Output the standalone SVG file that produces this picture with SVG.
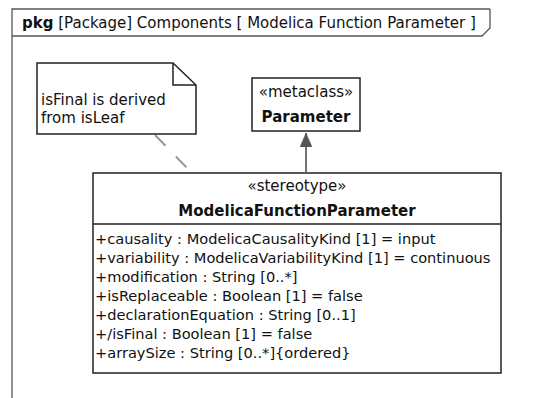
<svg xmlns="http://www.w3.org/2000/svg" width="558" height="398" viewBox="0 0 558 398">
<style>
  text { font-family: "DejaVu Sans", Verdana, sans-serif; font-size: 14.6px; fill: #111; }
  .b { font-weight: bold; font-size: 15px; }
  .h { font-size: 15px; }
  .box { fill: #fff; stroke: #222; stroke-width: 1.5; }
  .frame { fill: none; stroke: #555; stroke-width: 1.3; }
  .c { text-anchor: middle; }
</style>
<defs>
  <marker id="gen" markerWidth="16" markerHeight="12" refX="14" refY="6" orient="auto" markerUnits="userSpaceOnUse">
    <path d="M0,0 L14,6 L0,12 Z" fill="#555" stroke="#555" stroke-width="0.5"/>
  </marker>
</defs>
<rect width="558" height="398" fill="#fff"/>
<g id="frame">
  <path class="frame" d="M12,398 L12,9 L490,9"/>
  <path class="frame" d="M490,9 L490,28 L482,36 L12,36"/>
  <text class="h" x="22" y="28"><tspan font-weight="bold">pkg</tspan> [Package] Components [ Modelica Function Parameter  ]</text>
</g>
<g id="connectors">
  <line x1="155" y1="135" x2="189" y2="170" stroke="#999" stroke-width="2" stroke-dasharray="15,15"/>
  <line x1="306" y1="172" x2="306" y2="133" stroke="#444" stroke-width="1.5" marker-end="url(#gen)"/>
</g>
<g id="note">
  <path class="box" d="M37,63 L173,63 L196,85 L196,134 L37,134 Z"/>
  <path fill="none" stroke="#222" stroke-width="1.5" d="M173,63 L173,85 L196,85"/>
  <text class="h" x="41" y="105">isFinal is derived</text>
  <text class="h" x="41" y="123">from isLeaf</text>
</g>
<g id="parameter">
  <rect class="box" x="252" y="78" width="108" height="53"/>
  <text class="c h" x="306" y="97">«metaclass»</text>
  <text class="c b" x="306" y="122">Parameter</text>
</g>
<g id="modelicaFunctionParameter">
  <rect class="box" x="93" y="173" width="408" height="200"/>
  <line x1="93" y1="224" x2="501" y2="224" stroke="#222" stroke-width="1.5"/>
  <text class="c h" x="297" y="191">«stereotype»</text>
  <text class="c b" x="297" y="216">ModelicaFunctionParameter</text>
  <text x="95" y="243.5">+causality : ModelicaCausalityKind [1] = input</text>
  <text x="95" y="262.5">+variability : ModelicaVariabilityKind [1] = continuous</text>
  <text x="95" y="281.5">+modification : String [0..*]</text>
  <text x="95" y="300.5">+isReplaceable : Boolean [1] = false</text>
  <text x="95" y="319.5">+declarationEquation : String [0..1]</text>
  <text x="95" y="338.5">+/isFinal : Boolean [1] = false</text>
  <text x="95" y="357.5">+arraySize : String [0..*]{ordered}</text>
</g>
</svg>
